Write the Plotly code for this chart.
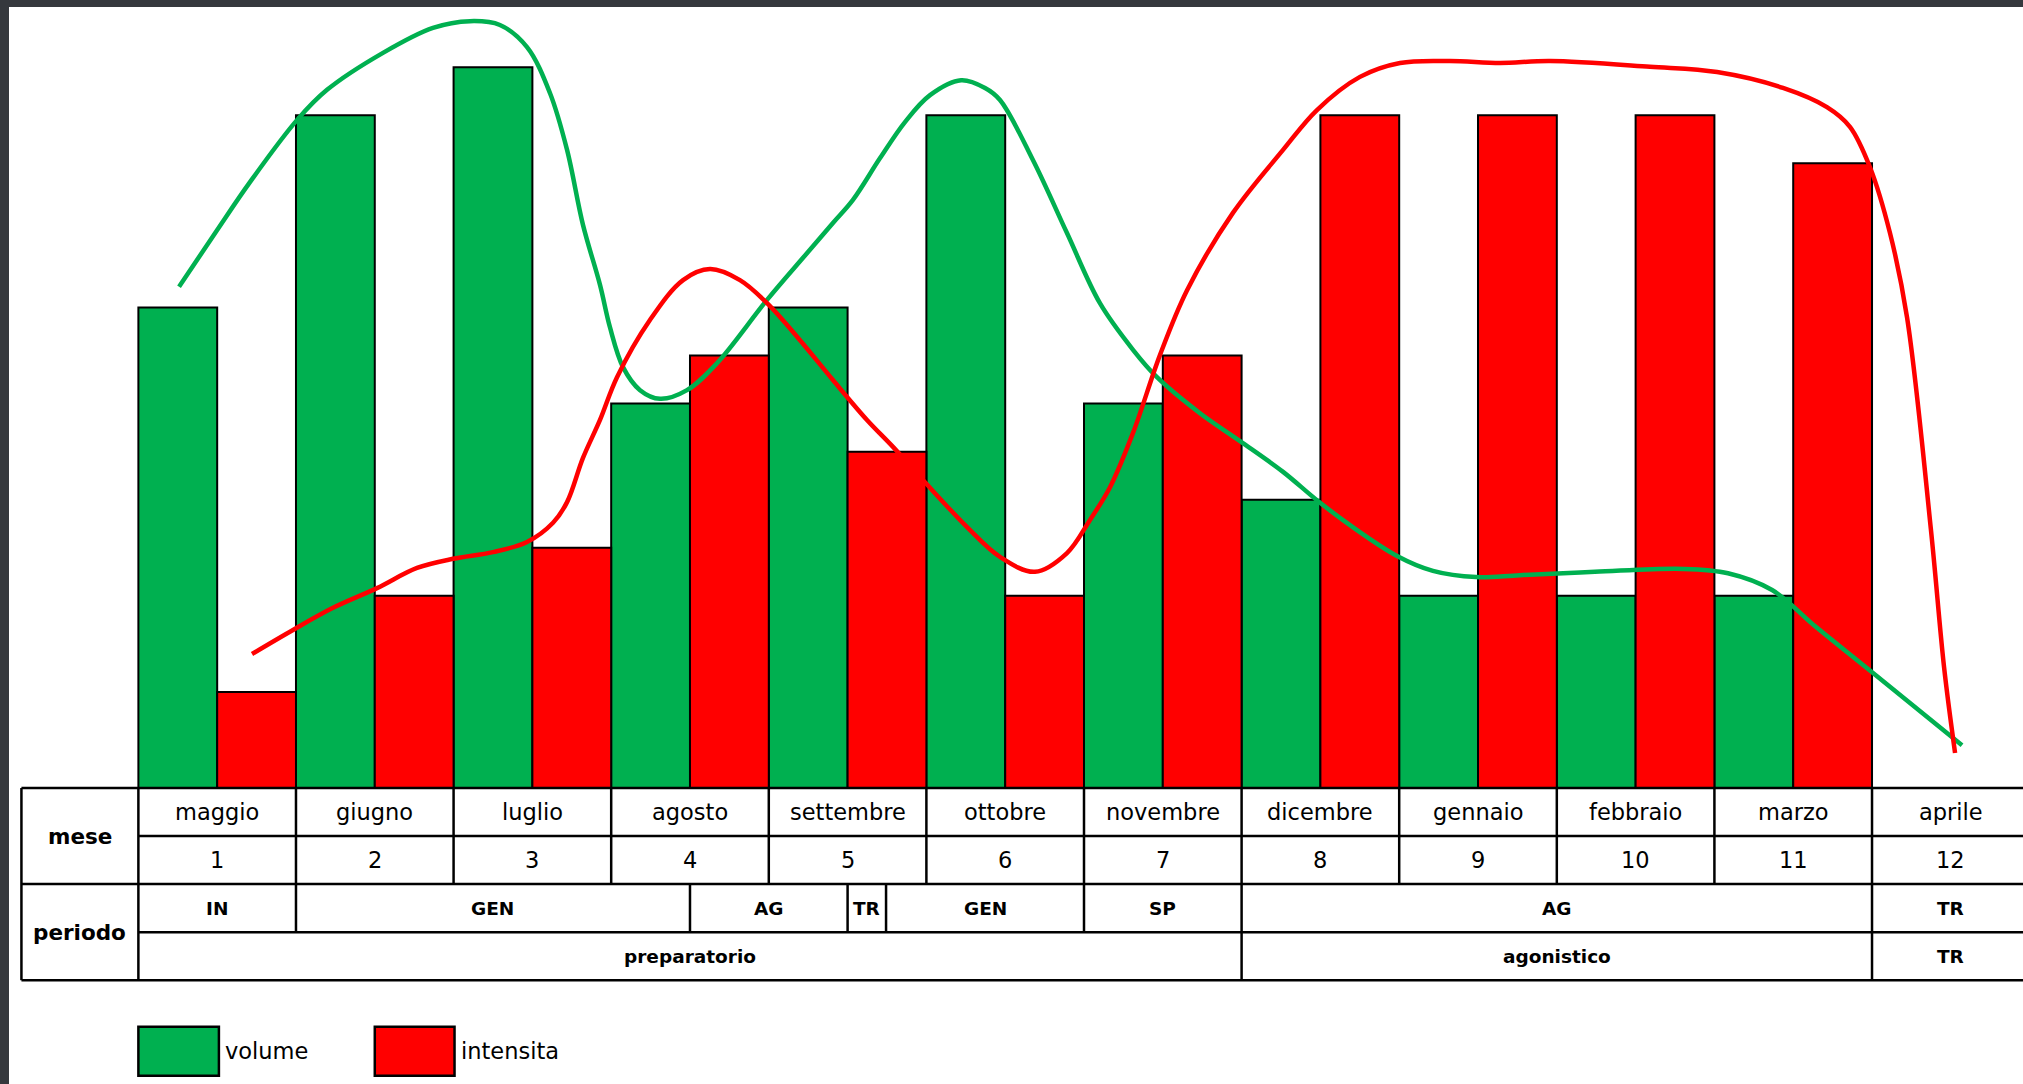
import plotly.graph_objects as go

# ---------------- data ----------------
mesi = ["maggio", "giugno", "luglio", "agosto", "settembre", "ottobre",
        "novembre", "dicembre", "gennaio", "febbraio", "marzo", "aprile"]
numeri = ["1", "2", "3", "4", "5", "6", "7", "8", "9", "10", "11", "12"]
mese_num = [1, 2, 3, 4, 5, 6, 7, 8, 9, 10, 11]
volume = [10, 14, 15, 8, 10, 14, 8, 6, 4, 4, 4]
intensita = [2, 4, 5, 9, 7, 4, 9, 14, 14, 14, 13]

# hand-drawn trend curves (month units, value units)
vol_curve_x = [0.758, 0.999, 1.208, 1.506, 1.697, 2.052, 2.369, 2.604, 2.794, 2.966,
               3.112, 3.220, 3.321, 3.429, 3.492, 3.575, 3.683, 3.810, 3.981, 4.171,
               4.489, 4.742, 4.907, 5.034, 5.206, 5.364, 5.523, 5.720, 5.872, 5.967,
               6.176, 6.392, 6.601, 6.811, 6.963, 7.236, 7.490, 7.763, 7.978, 8.188,
               8.486, 8.714, 8.987, 9.266, 9.742, 10.301, 10.586, 10.866, 11.145,
               11.481, 12.071]
vol_curve_y = [10.43, 11.61, 12.61, 13.90, 14.53, 15.30, 15.82, 15.96, 15.88, 15.42,
               14.46, 13.28, 11.72, 10.47, 9.59, 8.76, 8.28, 8.10, 8.28, 8.84,
               10.16, 11.13, 11.76, 12.24, 13.11, 13.86, 14.42, 14.73, 14.57, 14.32,
               13.07, 11.55, 10.09, 9.12, 8.55, 7.80, 7.22, 6.58, 5.99, 5.47,
               4.83, 4.52, 4.39, 4.43, 4.50, 4.56, 4.47, 4.12, 3.35,
               2.46, 0.89]

int_curve_x = [1.221, 1.481, 1.735, 2.014, 2.268, 2.496, 2.750, 2.966, 3.131, 3.220,
               3.321, 3.429, 3.537, 3.746, 3.956, 4.127, 4.317, 4.489, 4.698, 4.907,
               5.123, 5.288, 5.478, 5.758, 5.967, 6.189, 6.392, 6.538, 6.665, 6.811,
               6.982, 7.154, 7.445, 7.763, 7.978, 8.251, 8.505, 8.822, 9.140, 9.457,
               10.091, 10.517, 10.935, 11.214, 11.360, 11.487, 11.614, 11.722, 11.874,
               11.957, 12.027]
int_curve_y = [2.79, 3.29, 3.75, 4.16, 4.58, 4.77, 4.91, 5.12, 5.52, 5.95,
               6.87, 7.66, 8.55, 9.74, 10.57, 10.80, 10.57, 10.09, 9.32, 8.49,
               7.66, 7.10, 6.41, 5.43, 4.81, 4.50, 4.89, 5.58, 6.26, 7.39,
               9.01, 10.36, 11.97, 13.28, 14.11, 14.80, 15.09, 15.13, 15.09, 15.13,
               15.01, 14.90, 14.57, 14.17, 13.76, 12.92, 11.55, 9.80, 5.37,
               2.52, 0.73]

periodo_labels = ["IN", "GEN", "AG", "TR", "GEN", "SP", "AG", "TR"]
periodo_bounds = [0.5, 1.5, 4.0, 5.0, 5.244, 6.5, 7.5, 11.5, 12.5]
fase_labels = ["preparatorio", "agonistico", "TR"]
fase_bounds = [0.5, 7.5, 11.5, 12.5]

GREEN = "#00B050"
RED = "#FF0000"
FONT = "DejaVu Sans"

fig = go.Figure()
fig.add_trace(go.Bar(x=mese_num, y=volume, offset=-0.5, width=0.5,
                     marker=dict(color=GREEN, line=dict(color="black", width=2)),
                     name="volume", showlegend=False))
fig.add_trace(go.Bar(x=mese_num, y=intensita, offset=0.0, width=0.5,
                     marker=dict(color=RED, line=dict(color="black", width=2)),
                     name="intensita", showlegend=False))
fig.add_trace(go.Scatter(x=vol_curve_x, y=vol_curve_y, mode="lines",
                         line=dict(color=GREEN, width=4.5, shape="spline", smoothing=1.0),
                         showlegend=False, hoverinfo="skip"))
fig.add_trace(go.Scatter(x=int_curve_x, y=int_curve_y, mode="lines",
                         line=dict(color=RED, width=4.5, shape="spline", smoothing=1.0),
                         showlegend=False, hoverinfo="skip"))

shapes = []
annotations = []
LW = 2.5
L = -0.242   # left edge of table
R = 12.7     # beyond right edge
LINE = dict(color="black", width=LW)


def hline(y, x0, x1):
    shapes.append(dict(type="line", xref="x", yref="y", x0=x0, x1=x1, y0=y, y1=y,
                       line=LINE, layer="above"))


def vline(x, y0, y1):
    shapes.append(dict(type="line", xref="x", yref="y", x0=x, x1=x, y0=y0, y1=y1,
                       line=LINE, layer="above"))


def text(x, y, s, size, bold=False, anchor="center"):
    annotations.append(dict(x=x, y=y, xref="x", yref="y", text=f"<b>{s}</b>" if bold else s,
                            showarrow=False, xanchor=anchor, yanchor="middle",
                            font=dict(family=FONT, size=size, color="black")))


# horizontal table lines
hline(0, L, R)
hline(-1, 0.5, R)
hline(-2, L, R)
hline(-3, 0.5, R)
hline(-4, L, R)
# vertical table lines
vline(L, 0, -4)
vline(0.5, 0, -4)
for i in range(1, len(mesi)):
    vline(i + 0.5, 0, -2)
for b in periodo_bounds[1:-1]:
    vline(b, -2, -3)
for b in fase_bounds[1:-1]:
    vline(b, -3, -4)

# table texts
text((L + 0.5) / 2, -1, "mese", 21.5, bold=True)
text((L + 0.5) / 2, -3, "periodo", 21.5, bold=True)
for i, (m, n) in enumerate(zip(mesi, numeri)):
    text(i + 1, -0.5, m, 22.5)
    text(i + 1, -1.5, n, 22.5)
for k, lab in enumerate(periodo_labels):
    cx = (periodo_bounds[k] + periodo_bounds[k + 1]) / 2
    if k == len(periodo_labels) - 1:
        cx = 12
    text(cx, -2.5, lab, 18.5, bold=True)
for k, lab in enumerate(fase_labels):
    cx = (fase_bounds[k] + fase_bounds[k + 1]) / 2
    if k == len(fase_labels) - 1:
        cx = 12
    text(cx, -3.5, lab, 18.5, bold=True)

# legend (drawn)
shapes.append(dict(type="rect", xref="x", yref="y", x0=0.5, x1=1.011, y0=-5.99, y1=-4.97,
                   fillcolor=GREEN, line=dict(color="black", width=2.5), layer="above"))
shapes.append(dict(type="rect", xref="x", yref="y", x0=2.0, x1=2.506, y0=-5.99, y1=-4.97,
                   fillcolor=RED, line=dict(color="black", width=2.5), layer="above"))
text(1.04, -5.48, "volume", 22.5, anchor="left")
text(2.535, -5.48, "intensita", 22.5, anchor="left")

# dark screenshot frame (top and left)
shapes.append(dict(type="rect", xref="paper", yref="paper", x0=0, x1=1, y0=1 - 7 / 1084, y1=1,
                   fillcolor="#35383d", line=dict(width=0), layer="above"))
shapes.append(dict(type="rect", xref="paper", yref="paper", x0=0, x1=9 / 2023, y0=0, y1=1,
                   fillcolor="#35383d", line=dict(width=0), layer="above"))

fig.update_layout(
    width=2023, height=1084,
    margin=dict(l=0, r=0, t=0, b=0),
    paper_bgcolor="white", plot_bgcolor="white",
    barmode="overlay",
    xaxis=dict(range=[-0.378, 12.458], visible=False, fixedrange=True),
    yaxis=dict(range=[-6.160, 16.40], visible=False, fixedrange=True),
    shapes=shapes, annotations=annotations,
    showlegend=False,
)

fig.write_html("out.html")
